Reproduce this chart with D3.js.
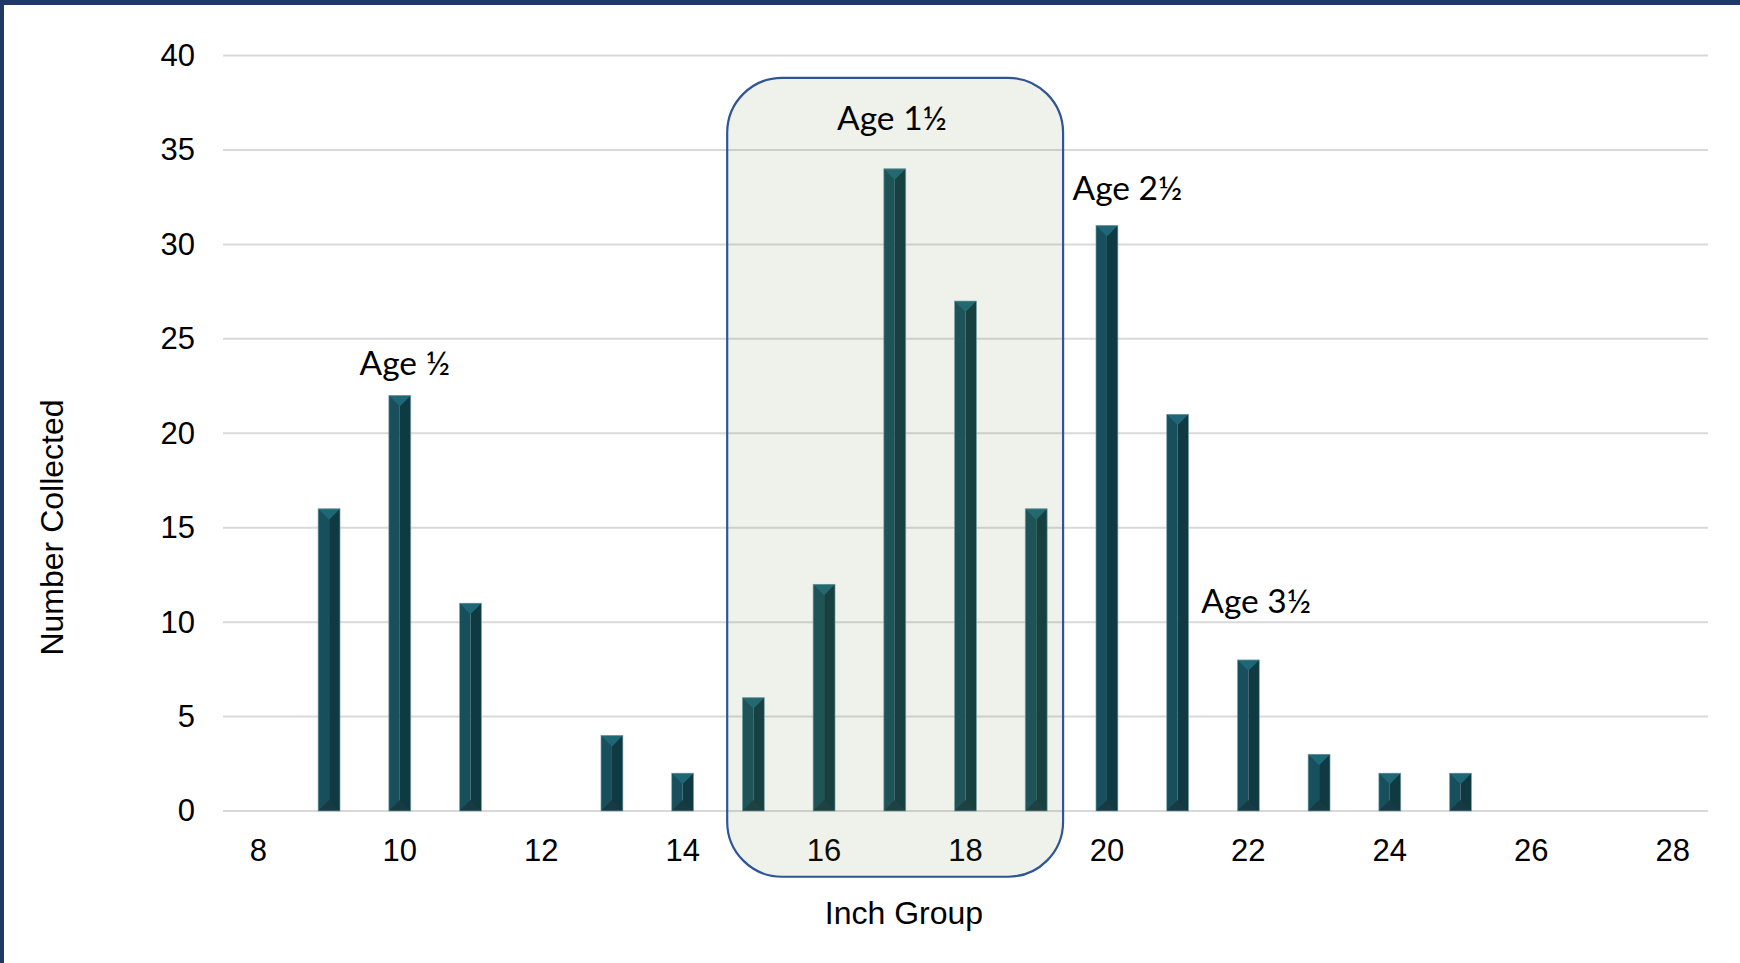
<!DOCTYPE html>
<html>
<head>
<meta charset="utf-8">
<script src="https://cdn.jsdelivr.net/npm/d3@7"></script>
<style>
  html, body { margin: 0; padding: 0; background: #fff; }
  svg { display: block; }
</style>
</head>
<body>
<svg id="chart" width="1740" height="963"></svg>
<script>
// ---- data ----
const inchGroups = [8, 9, 10, 11, 12, 13, 14, 15, 16, 17, 18, 19, 20, 21, 22, 23, 24, 25, 26, 27, 28];
const numberCollected = [0, 16, 22, 11, 0, 4, 2, 6, 12, 34, 27, 16, 31, 21, 8, 3, 2, 2, 0, 0, 0];
const xTickLabels = [8, 10, 12, 14, 16, 18, 20, 22, 24, 26, 28];
const yTickValues = [0, 5, 10, 15, 20, 25, 30, 35, 40];
const ageLabels = ["Age ½", "Age 1½", "Age 2½", "Age 3½"];
const ageLabelInch = [10.07, 16.96, 20.29, 22.11];
const ageLabelCount = [23.1, 36.05, 32.36, 10.48];
const highlightInch = [14.63, 19.38];
const highlightCount = [-3.48, 38.82];
const xTitle = "Inch Group";
const yTitle = "Number Collected";

// ---- layout ----
const W = 1740, H = 963;
const m = { left: 223, right: W - 1708, top: 55.5, bottom: H - 811 };
const iw = W - m.left - m.right, ih = H - m.top - m.bottom;

const svg = d3.select("#chart");
svg.append("rect").attr("width", W).attr("height", H).attr("fill", "#fff");

const g = svg.append("g").attr("transform", `translate(${m.left},${m.top})`);

const x = d3.scaleBand().domain(inchGroups).range([0, iw]).paddingInner(0).paddingOuter(0);
const y = d3.scaleLinear().domain([0, 40]).range([ih, 0]);
const bw = x.bandwidth();
// continuous position along the category axis (centre of band for integer inch)
const xc = d3.scaleLinear().domain([inchGroups[0] - 0.5, inchGroups[inchGroups.length - 1] + 0.5]).range([0, iw]);

// gridlines
g.append("g").selectAll("line").data(yTickValues).join("line")
  .attr("x1", 0).attr("x2", iw)
  .attr("y1", d => y(d)).attr("y2", d => y(d))
  .attr("stroke", "#d9d9d9").attr("stroke-width", 2);

// y axis labels
const yAxis = g.append("g").call(d3.axisLeft(y).tickValues(yTickValues).tickSize(0).tickPadding(28));
yAxis.select(".domain").remove();
yAxis.selectAll("text").attr("font-family", "'Liberation Sans', Arial, sans-serif")
  .attr("font-size", 31).attr("fill", "#000");

// x axis labels
const xAxis = g.append("g").attr("transform", `translate(0,${ih})`)
  .call(d3.axisBottom(x).tickValues(xTickLabels).tickSize(0).tickPadding(27.5));
xAxis.select(".domain").remove();
xAxis.selectAll("text").attr("font-family", "'Liberation Sans', Arial, sans-serif")
  .attr("font-size", 31).attr("fill", "#000");

// bars with bevel
const barW = bw * 0.31;
const data = inchGroups.map((d, i) => ({ inch: d, v: numberCollected[i] })).filter(d => d.v > 0);
const bars = g.append("g").selectAll("g").data(data).join("g")
  .attr("transform", d => `translate(${x(d.inch) + bw / 2 - barW / 2},0)`);
const bev = barW / 2;
bars.each(function(d) {
  const sel = d3.select(this);
  const top = y(d.v), bot = y(0), w = barW, c = w / 2;
  sel.append("rect").attr("x", 0).attr("y", top).attr("width", c).attr("height", bot - top).attr("fill", "#174f5c");
  sel.append("rect").attr("x", c).attr("y", top).attr("width", c).attr("height", bot - top).attr("fill", "#0f3a42");
  sel.append("path").attr("d", `M0,${top}L${w},${top}L${c},${top + bev}Z`).attr("fill", "#1f6777");
  sel.append("path").attr("d", `M0,${bot}L${w},${bot}L${c},${bot - bev}Z`).attr("fill", "#183a43");
  sel.append("rect").attr("x", 0).attr("y", top).attr("width", w).attr("height", bot - top)
    .attr("fill", "none").attr("stroke", "#7fa8b1").attr("stroke-width", 0.8).attr("stroke-opacity", 0.8);
});

// highlight rounded box (semi-transparent overlay)
const bx0 = xc(highlightInch[0]), bx1 = xc(highlightInch[1]);
const by0 = y(highlightCount[1]), by1 = y(highlightCount[0]);
g.append("rect")
  .attr("x", bx0).attr("y", by0).attr("width", bx1 - bx0).attr("height", by1 - by0)
  .attr("rx", 55).attr("ry", 55)
  .attr("fill", "rgb(100,130,60)").attr("fill-opacity", 0.1)
  .attr("stroke", "#2f5597").attr("stroke-width", 2.2);

// age annotations
g.append("g").selectAll("text").data(ageLabels).join("text")
  .attr("x", (d, i) => xc(ageLabelInch[i]))
  .attr("y", (d, i) => y(ageLabelCount[i]))
  .attr("text-anchor", "middle")
  .attr("font-family", "Lato, 'Open Sans', sans-serif")
  .attr("font-size", 33.5)
  .attr("fill", "#000")
  .text(d => d);

// axis titles
svg.append("text").attr("x", 904).attr("y", 924).attr("text-anchor", "middle")
  .attr("font-family", "'Liberation Sans', Arial, sans-serif").attr("font-size", 32).attr("fill", "#000")
  .text(xTitle);
svg.append("text").attr("transform", "translate(63,527.5) rotate(-90)").attr("text-anchor", "middle")
  .attr("font-family", "'Liberation Sans', Arial, sans-serif").attr("font-size", 32).attr("fill", "#000")
  .text(yTitle);

// frame border (top & left)
svg.append("rect").attr("x", 0).attr("y", 0).attr("width", W).attr("height", 5).attr("fill", "#1f3864");
svg.append("rect").attr("x", 0).attr("y", 0).attr("width", 4).attr("height", H).attr("fill", "#1f3864");
</script>
</body>
</html>
